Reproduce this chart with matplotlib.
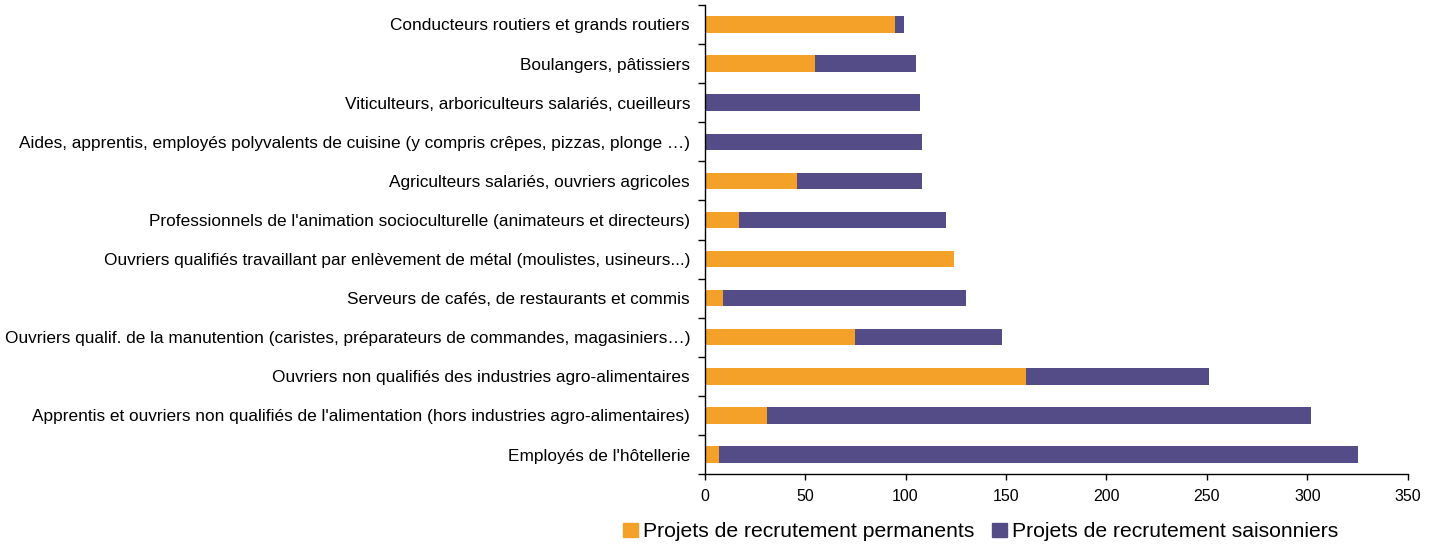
import matplotlib
import matplotlib.pyplot as plt
import numpy as np
from matplotlib.patches import Patch

matplotlib.use("Agg")

plt.rcParams["font.family"] = ["Liberation Sans", "DejaVu Sans"]

metiers = [
    "Conducteurs routiers et grands routiers",
    "Boulangers, pâtissiers",
    "Viticulteurs, arboriculteurs salariés, cueilleurs",
    "Aides, apprentis, employés polyvalents de cuisine (y compris crêpes, pizzas, plonge …)",
    "Agriculteurs salariés, ouvriers agricoles",
    "Professionnels de l'animation socioculturelle (animateurs et directeurs)",
    "Ouvriers qualifiés travaillant par enlèvement de métal (moulistes, usineurs...)",
    "Serveurs de cafés, de restaurants et commis",
    "Ouvriers qualif. de la manutention (caristes, préparateurs de commandes, magasiniers…)",
    "Ouvriers non qualifiés des industries agro-alimentaires",
    "Apprentis et ouvriers non qualifiés de l'alimentation (hors industries agro-alimentaires)",
    "Employés de l'hôtellerie",
]
permanents = [95, 55, 0, 0, 46, 17, 124, 9, 75, 160, 31, 7]
saisonniers = [4, 50, 107, 108, 62, 103, 0, 121, 73, 91, 271, 318]
x_ticks = [0, 50, 100, 150, 200, 250, 300, 350]

orange = "#F4A12A"
violet = "#544C87"

fig = plt.figure(figsize=(14.38, 5.45), dpi=100)
ax = fig.add_axes([0.490, 0.130, 0.489, 0.861])

y = np.arange(len(metiers))[::-1]
ax.barh(y, permanents, height=0.42, color=orange)
ax.barh(y, saisonniers, left=permanents, height=0.42, color=violet)

ax.set_xlim(0, 350)
ax.set_ylim(-0.5, len(metiers) - 0.5)
ax.set_xticks(x_ticks)
ax.set_yticks(y)
ax.set_yticklabels(metiers, fontsize=12.4)
ax.set_yticks(np.arange(-0.5, len(metiers), 1), minor=True)
ax.tick_params(axis="y", which="major", length=0, pad=10.5)
ax.tick_params(axis="y", which="minor", length=5, width=1)
ax.tick_params(axis="x", length=4, width=1, labelsize=11.5, pad=7)

for side in ["top", "right"]:
    ax.spines[side].set_visible(False)
ax.spines["left"].set_linewidth(1)
ax.spines["bottom"].set_linewidth(1)

handles = [Patch(color=orange), Patch(color=violet)]
fig.legend(
    handles,
    ["Projets de recrutement permanents", "Projets de recrutement saisonniers"],
    loc="center",
    bbox_to_anchor=(0.682, 0.024),
    ncol=2,
    frameon=False,
    fontsize=15.2,
    handlelength=0.7,
    handleheight=0.7,
    handletextpad=0.25,
    columnspacing=0.8,
)

fig.savefig("out.png", dpi=100)
